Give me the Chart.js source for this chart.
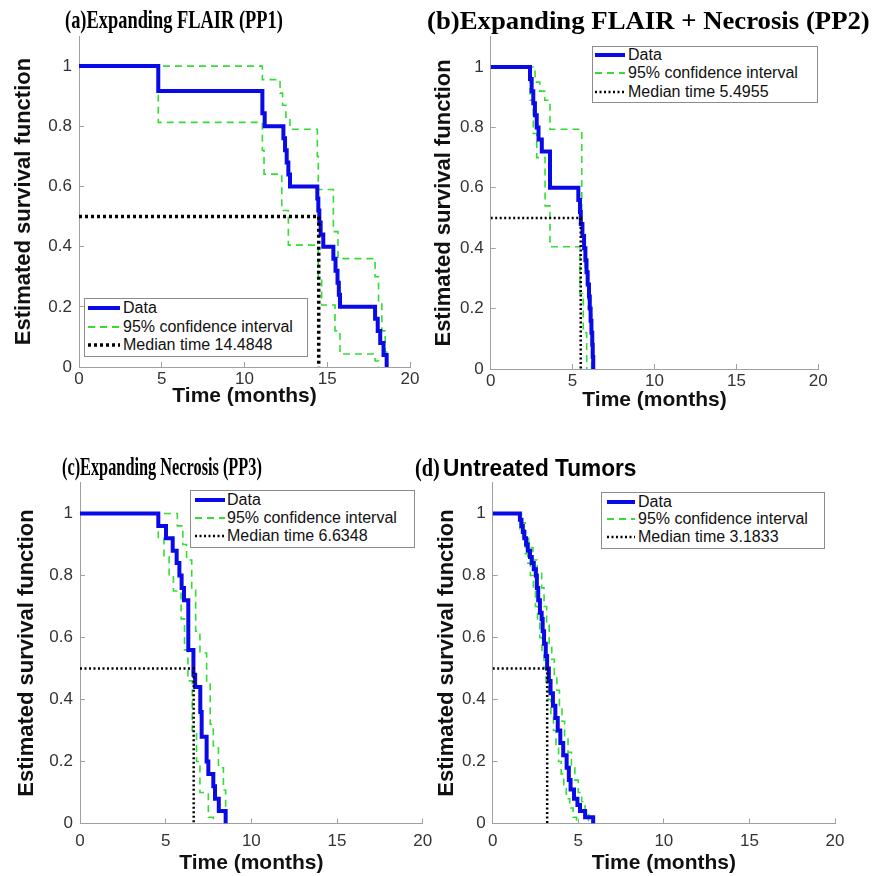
<!DOCTYPE html>
<html>
<head>
<meta charset="utf-8">
<script src="https://cdn.jsdelivr.net/npm/chart.js@4.4.1/dist/chart.umd.min.js"></script>
<style>
  body { margin: 0; background: #fff; width: 877px; height: 876px; position: relative; overflow: hidden;
         font-family: "Liberation Sans", Arial, Helvetica, sans-serif; }
  canvas { position: absolute; }
  .ttl { position: absolute; white-space: nowrap; font-weight: bold; line-height: 1; transform-origin: 0 50%; color: #000; }
  .leg { position: absolute; background: #fff; border: 1px solid #8c8c8c; box-sizing: border-box; }
  .leg span { position: absolute; font-size: 16px; line-height: 18px; color: #111; white-space: nowrap; }
  .leg svg { position: absolute; }
</style>
</head>
<body>
<script>
// Kaplan-Meier estimates: [time (months), survival]
const pp1Data  = [[0,1],[4.79,0.917],[11.08,0.843],[11.22,0.80],[12.35,0.76],[12.45,0.72],[12.55,0.68],[12.65,0.64],[12.75,0.60],[14.40,0.56],[14.46,0.52],[14.52,0.48],[14.60,0.44],[14.76,0.40],[15.37,0.36],[15.50,0.32],[15.62,0.28],[15.70,0.24],[15.77,0.20],[17.89,0.16],[18.05,0.12],[18.20,0.08],[18.40,0.04],[18.59,0]];
const pp1Upper = [[0,1],[11.08,0.955],[12.15,0.91],[12.30,0.87],[12.50,0.83],[12.75,0.79],[14.40,0.70],[14.46,0.59],[15.37,0.45],[15.65,0.36],[17.89,0.30],[18.10,0.22],[18.30,0.12],[18.50,0.05],[18.59,0]];
const pp1Lower = [[0,1],[4.79,0.813],[11.08,0.72],[11.18,0.641],[12.25,0.52],[12.65,0.405],[14.46,0.30],[14.66,0.206],[15.47,0.12],[15.77,0.043],[17.89,0.02],[18.10,0]];
const pp1Median = 14.4848;

const pp2Data  = [[0,1],[2.40,0.96],[2.50,0.92],[2.60,0.88],[2.70,0.84],[2.81,0.80],[2.92,0.76],[3.12,0.72],[3.62,0.60],[5.35,0.56],[5.45,0.52],[5.50,0.48],[5.60,0.44],[5.70,0.40],[5.78,0.36],[5.85,0.32],[5.92,0.28],[6.00,0.24],[6.05,0.20],[6.10,0.16],[6.15,0.12],[6.20,0.08],[6.23,0.04],[6.26,0]];
const pp2Upper = [[0,1],[2.71,0.95],[3.00,0.92],[3.30,0.89],[3.62,0.794],[5.56,0.45],[5.76,0.32],[5.95,0.20],[6.16,0]];
const pp2Lower = [[0,1],[2.40,0.89],[2.60,0.78],[2.81,0.70],[3.32,0.54],[3.62,0.405],[5.45,0.25],[5.65,0.12],[5.86,0]];
const pp2Median = 5.4955;

const pp3Data  = [[0,1],[4.57,0.96],[5.02,0.92],[5.41,0.88],[5.64,0.84],[5.80,0.80],[5.93,0.76],[6.07,0.72],[6.32,0.56],[6.62,0.48],[6.72,0.44],[7.02,0.36],[7.10,0.28],[7.39,0.20],[7.49,0.16],[7.78,0.12],[7.88,0.08],[8.10,0.04],[8.50,0]];
const pp3Upper = [[0,1],[5.68,0.96],[6.00,0.90],[6.22,0.85],[6.52,0.753],[6.75,0.62],[7.00,0.55],[7.39,0.45],[7.60,0.32],[7.78,0.25],[8.08,0.18],[8.37,0.108],[8.50,0]];
const pp3Lower = [[0,1],[4.57,0.92],[4.90,0.86],[5.20,0.80],[5.45,0.75],[5.90,0.66],[6.10,0.56],[6.30,0.46],[6.55,0.30],[6.80,0.20],[7.00,0.10],[7.49,0.02],[7.78,0]];
const pp3Median = 6.6348;

const utData  = [[0,1],[1.59,0.98],[1.68,0.96],[1.76,0.94],[1.85,0.92],[1.95,0.90],[2.05,0.88],[2.18,0.86],[2.28,0.84],[2.40,0.82],[2.52,0.80],[2.58,0.76],[2.66,0.72],[2.76,0.68],[2.86,0.66],[2.92,0.62],[3.00,0.58],[3.10,0.54],[3.18,0.50],[3.28,0.46],[3.38,0.42],[3.52,0.38],[3.66,0.34],[3.80,0.30],[3.95,0.26],[4.12,0.22],[4.32,0.18],[4.45,0.14],[4.55,0.11],[4.75,0.08],[4.95,0.06],[5.10,0.04],[5.40,0.02],[5.87,0]];
const utUpper = [[0,1],[1.68,0.97],[1.90,0.93],[2.10,0.89],[2.35,0.85],[2.60,0.81],[2.86,0.76],[3.00,0.70],[3.15,0.64],[3.30,0.58],[3.45,0.53],[3.60,0.48],[3.75,0.43],[3.90,0.38],[4.05,0.33],[4.20,0.28],[4.40,0.23],[4.60,0.18],[4.80,0.14],[5.00,0.10],[5.20,0.07],[5.40,0.04],[5.60,0.01],[5.70,0]];
const utLower = [[0,1],[1.59,0.95],[1.75,0.91],[1.90,0.87],[2.05,0.84],[2.20,0.80],[2.38,0.76],[2.50,0.70],[2.62,0.65],[2.75,0.60],[2.88,0.55],[3.00,0.50],[3.12,0.45],[3.25,0.40],[3.40,0.35],[3.55,0.30],[3.70,0.25],[3.85,0.20],[4.00,0.16],[4.15,0.12],[4.30,0.08],[4.50,0.05],[4.70,0.02],[4.90,0]];
const utMedian = 3.1833;

const medianLevel = 0.5;
const xTicks = [0, 5, 10, 15, 20];
const xTickLabels = ['0', '5', '10', '15', '20'];
const yTicks = [0, 0.2, 0.4, 0.6, 0.8, 1];
const yTickLabels = ['0', '0.2', '0.4', '0.6', '0.8', '1'];
const xTitle = 'Time (months)';
const yTitle = 'Estimated survival function';

const BLUE = '#0a0ae8', GREEN = '#33dd33', AXIS = '#a0a0a0', TICKTXT = '#333';

// layout of the four panels, page pixels
const panels = [
  { data: pp1Data, upper: pp1Upper, lower: pp1Lower, median: pp1Median, medianText: 'Median time 14.4848',
    canvas: [0, 0, 445, 420], area: [79, 410, 36, 367], yLabX: 24, xLabY: 396, xTickY: 379,
    medW: 3.5, medDash: [3, 3],
    legend: { box: [84, 298, 224, 59], rows: [308, 327, 345], sx: [88, 120], tx: 123 },
    title: [{ text: '(a)Expanding FLAIR (PP1)', font: '"Liberation Serif","Times New Roman",serif', size: 26, x0: 65, x1: 283, cy: 20 }] },
  { data: pp2Data, upper: pp2Upper, lower: pp2Lower, median: pp2Median, medianText: 'Median time 5.4955',
    canvas: [425, 0, 452, 420], area: [490.7, 818.3, 36.8, 369], yLabX: 444, xLabY: 400, xTickY: 381,
    medW: 2.5, medDash: [2, 2.5],
    legend: { box: [592, 46, 226, 57], rows: [55, 73.3, 91.7], sx: [595, 625], tx: 628 },
    title: [{ text: '(b)Expanding FLAIR + Necrosis (PP2)', font: '"Liberation Serif","Times New Roman",serif', size: 25, x0: 427, x1: 870, cy: 20 }] },
  { data: pp3Data, upper: pp3Upper, lower: pp3Lower, median: pp3Median, medianText: 'Median time 6.6348',
    canvas: [0, 440, 455, 436], area: [80, 422.7, 482.5, 823.5], yLabX: 27, xLabY: 863, xTickY: 841,
    medW: 2.5, medDash: [2, 2.5],
    legend: { box: [190, 490, 225, 58], rows: [500, 518.3, 536], sx: [195, 225], tx: 227 },
    title: [{ text: '(c)Expanding Necrosis (PP3)', font: '"Liberation Serif","Times New Roman",serif', size: 26, x0: 62, x1: 262, cy: 467 }] },
  { data: utData, upper: utUpper, lower: utLower, median: utMedian, medianText: 'Median time 3.1833',
    canvas: [430, 440, 447, 436], area: [492.7, 835, 482.5, 823.5], yLabX: 447, xLabY: 863, xTickY: 841,
    medW: 2.5, medDash: [2, 2.5],
    legend: { box: [601, 492, 224, 57], rows: [501.7, 519.3, 537.3], sx: [607, 635], tx: 638 },
    title: [{ text: '(d)', font: '"Liberation Serif","Times New Roman",serif', size: 26, x0: 415, x1: 440, cy: 468 },
            { text: 'Untreated Tumors', font: '"Liberation Sans",Arial,sans-serif', size: 23, x0: 443, x1: 636, cy: 468 }] }
];

const legendLabels = ['Data', '95% confidence interval'];

function toPts(a) { return a.map(([x, y]) => ({ x: x, y: y })); }

function addTitle(t) {
  const s = document.createElement('div');
  s.className = 'ttl';
  s.textContent = t.text;
  s.style.fontFamily = t.font;
  s.style.fontSize = t.size + 'px';
  s.style.left = t.x0 + 'px';
  s.style.top = (t.cy - t.size / 2) + 'px';
  document.body.appendChild(s);
  const k = (t.x1 - t.x0) / s.offsetWidth;
  s.style.transform = 'scaleX(' + k.toFixed(3) + ')';
}

function addLegend(p) {
  const g = p.legend;
  const box = document.createElement('div');
  box.className = 'leg';
  box.style.left = g.box[0] + 'px'; box.style.top = g.box[1] + 'px';
  box.style.width = g.box[2] + 'px'; box.style.height = g.box[3] + 'px';
  const styles = [
    { c: BLUE, w: 4, d: '' },
    { c: GREEN, w: 1.8, d: '7 5' },
    { c: '#000', w: p.medW, d: p.medDash.join(' ') }
  ];
  const texts = [legendLabels[0], legendLabels[1], p.medianText];
  texts.forEach((txt, i) => {
    const cy = g.rows[i] - g.box[1] - 1;
    const len = g.sx[1] - g.sx[0];
    const svg = document.createElementNS('http://www.w3.org/2000/svg', 'svg');
    svg.setAttribute('width', len); svg.setAttribute('height', 10);
    svg.style.left = (g.sx[0] - g.box[0] - 1) + 'px';
    svg.style.top = (cy - 5) + 'px';
    const ln = document.createElementNS('http://www.w3.org/2000/svg', 'line');
    ln.setAttribute('x1', 0); ln.setAttribute('x2', len); ln.setAttribute('y1', 5); ln.setAttribute('y2', 5);
    ln.setAttribute('stroke', styles[i].c); ln.setAttribute('stroke-width', styles[i].w);
    if (styles[i].d) ln.setAttribute('stroke-dasharray', styles[i].d);
    svg.appendChild(ln);
    box.appendChild(svg);
    const sp = document.createElement('span');
    sp.textContent = txt;
    sp.style.left = (g.tx - g.box[0] - 1) + 'px';
    sp.style.top = (cy - 9) + 'px';
    box.appendChild(sp);
  });
  document.body.appendChild(box);
}

function makePanel(p) {
  const [cl, ct, cw, ch] = p.canvas;
  const [aL, aR, aT, aB] = p.area;
  const cv = document.createElement('canvas');
  cv.width = cw; cv.height = ch;
  cv.style.left = cl + 'px'; cv.style.top = ct + 'px';
  cv.style.width = cw + 'px'; cv.style.height = ch + 'px';
  document.body.appendChild(cv);

  const tickFont = 17, xTitleFont = 21, yTitleFont = 22;
  const yW = aL - cl, xH = ct + ch - aB;

  new Chart(cv.getContext('2d'), {
    type: 'line',
    data: {
      datasets: [
        { data: toPts(p.upper), borderColor: GREEN, borderWidth: 1.6, borderDash: [7, 5], stepped: true, order: 2 },
        { data: toPts(p.lower), borderColor: GREEN, borderWidth: 1.6, borderDash: [7, 5], stepped: true, order: 2 },
        { data: toPts(p.data), borderColor: BLUE, borderWidth: 4, stepped: true, order: 1 },
        { data: [{ x: 0, y: medianLevel }, { x: p.median, y: medianLevel }, { x: p.median, y: 0 }],
          borderColor: '#000', borderWidth: p.medW, borderDash: p.medDash, order: 0 }
      ]
    },
    options: {
      responsive: false,
      animation: false,
      events: [],
      layout: { padding: { left: 0, top: aT - ct, right: cl + cw - aR, bottom: 0 } },
      elements: { point: { radius: 0 }, line: { tension: 0, fill: false } },
      plugins: { legend: { display: false }, tooltip: { enabled: false } },
      scales: {
        x: {
          type: 'linear', min: 0, max: 20,
          afterBuildTicks: s => { s.ticks = xTicks.map(v => ({ value: v })); },
          afterFit: s => { s.height = xH; },
          ticks: { autoSkip: false, maxRotation: 0, color: TICKTXT,
                   font: { size: tickFont, family: '"Liberation Sans", Arial, sans-serif' },
                   padding: p.xTickY - aB - tickFont * 0.6 + 5,
                   callback: (v, i) => xTickLabels[i] },
          grid: { drawOnChartArea: false, drawTicks: true, tickLength: -5, color: AXIS },
          border: { display: true, color: AXIS, width: 1 },
          title: { display: true, text: xTitle, color: '#111',
                   font: { size: xTitleFont, weight: 'bold', family: '"Liberation Sans", Arial, sans-serif' },
                   padding: { top: 0, bottom: ct + ch - p.xLabY - xTitleFont * 0.6 } }
        },
        y: {
          type: 'linear', min: 0, max: 1.1,
          afterBuildTicks: s => { s.ticks = yTicks.map(v => ({ value: v })); },
          afterFit: s => { s.width = yW; },
          ticks: { autoSkip: false, color: TICKTXT, padding: 12,
                   font: { size: tickFont, family: '"Liberation Sans", Arial, sans-serif' },
                   callback: (v, i) => yTickLabels[i] },
          grid: { drawOnChartArea: false, drawTicks: true, tickLength: -5, color: AXIS },
          border: { display: true, color: AXIS, width: 1 },
          title: { display: true, text: yTitle, color: '#111',
                   font: { size: yTitleFont, weight: 'bold', family: '"Liberation Sans", Arial, sans-serif' },
                   padding: { top: p.yLabX - cl - yTitleFont * 0.6, bottom: 0 } }
        }
      }
    }
  });

  p.title.forEach(addTitle);
  addLegend(p);
}

panels.forEach(makePanel);
</script>
</body>
</html>
